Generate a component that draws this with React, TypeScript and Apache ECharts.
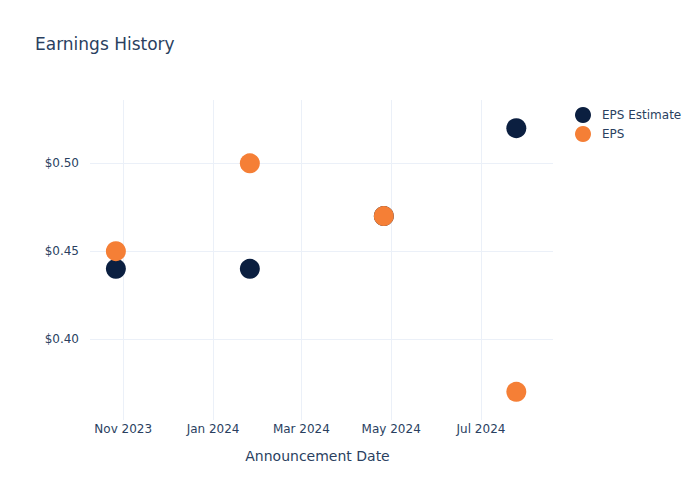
import React, { useEffect, useRef } from "react";
import * as echarts from "echarts";

const dates = ["2023-10-27", "2024-01-26", "2024-04-26", "2024-07-25"];
const epsEstimate = [0.44, 0.44, 0.47, 0.52];
const eps = [0.45, 0.5, 0.47, 0.37];
const xTicks = ["2023-11-01", "2024-01-01", "2024-03-01", "2024-05-01", "2024-07-01"];
const yTicks = [0.4, 0.45, 0.5];
const monthNames = ["Jan", "Feb", "Mar", "Apr", "May", "Jun", "Jul", "Aug", "Sep", "Oct", "Nov", "Dec"];

const FONT = "DejaVu Sans, sans-serif";
const TEXT = "#2a3f5f";

export default function App() {
  const ref = useRef<HTMLDivElement>(null);
  useEffect(() => {
    const chart = echarts.init(ref.current!, null, { renderer: "svg" });
    const ts = (d: string) => new Date(d + "T00:00:00Z").getTime();
    chart.setOption({
      animation: false,
      backgroundColor: "#fff",
      textStyle: { fontFamily: FONT },
      title: {
        text: "Earnings History",
        left: 35,
        top: 35,
        padding: 0,
        textStyle: { fontFamily: FONT, fontSize: 17, fontWeight: "normal", color: TEXT },
      },
      legend: {
        orient: "vertical",
        left: 570,
        top: 102,
        itemWidth: 28,
        itemHeight: 16,
        itemGap: 3,
        icon: "circle",
        textStyle: { fontFamily: FONT, fontSize: 12, color: TEXT },
        data: ["EPS Estimate", "EPS"],
      },
      grid: { left: 90, right: 147, top: 100, bottom: 80 },
      xAxis: {
        type: "value",
        min: ts("2023-10-09") + 10 * 3600e3,
        max: ts("2024-08-18") + 22 * 3600e3,
        name: "Announcement Date",
        nameLocation: "middle",
        nameGap: 29,
        nameTextStyle: { fontFamily: FONT, fontSize: 14, color: TEXT, padding: [0, 8, 0, 0] },
        axisLine: { show: false },
        axisTick: { show: false, customValues: xTicks.map(ts) },
        axisLabel: {
          customValues: xTicks.map(ts),
          fontFamily: FONT,
          fontSize: 12,
          color: TEXT,
          margin: 3,
          formatter: (v: number) => {
            const d = new Date(v);
            return monthNames[d.getUTCMonth()] + " " + d.getUTCFullYear();
          },
        },
        splitLine: { show: true, lineStyle: { color: "#ebf0f8", width: 1 } },
      },
      yAxis: {
        type: "value",
        min: 0.354,
        max: 0.536,
        axisLine: { show: false },
        axisTick: { show: false, customValues: yTicks },
        axisLabel: {
          customValues: yTicks,
          fontFamily: FONT,
          fontSize: 12,
          color: TEXT,
          margin: 11,
          formatter: (v: number) => "$" + v.toFixed(2),
        },
        splitLine: { show: true, lineStyle: { color: "#ebf0f8", width: 1 } },
      },
      series: [
        {
          name: "EPS Estimate",
          type: "scatter",
          symbolSize: 20,
          itemStyle: { color: "#0b1f40", opacity: 1 },
          data: dates.map((d, i) => [ts(d), epsEstimate[i]]),
        },
        {
          name: "EPS",
          type: "scatter",
          symbolSize: 20,
          itemStyle: { color: "#f57f36", opacity: 1 },
          data: dates.map((d, i) => [ts(d), eps[i]]),
        },
      ],
    });
    return () => chart.dispose();
  }, []);
  return <div ref={ref} style={{ width: 700, height: 500, position: "absolute", left: 0, top: 0 }} />;
}
